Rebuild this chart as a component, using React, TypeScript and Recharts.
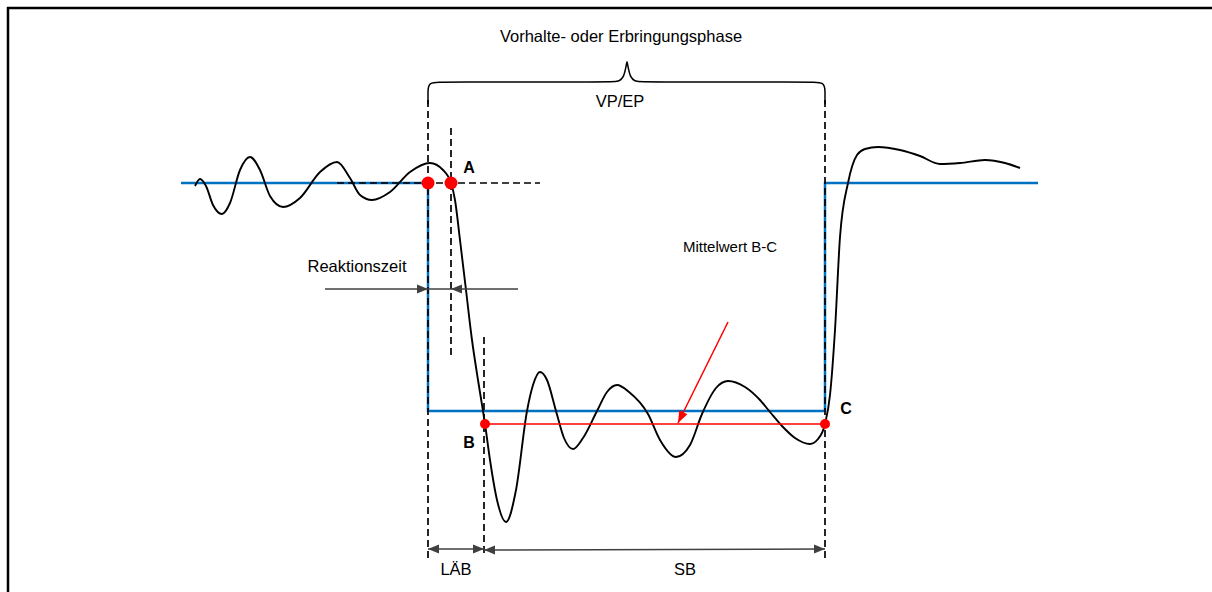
import React from 'react';
import { ComposedChart, Line, XAxis, YAxis, ReferenceLine, ReferenceDot } from 'recharts';

const W = 1212;
const H = 592;
const FONT = '"Liberation Sans", Arial, sans-serif';

// Istwert (measured response), t = time position, v = depth from top (axis reversed)
const istT = [195, 200, 206, 213, 222, 230, 240, 250, 260, 270, 283, 300, 320, 337, 350, 360, 372, 390, 410, 430, 443, 451, 455, 460, 466, 472, 478, 483, 485, 490, 497, 506, 516, 527, 533, 540, 547, 556, 564, 573, 583, 597, 607, 617, 629, 648, 660, 676, 690, 702, 716, 728, 745, 760, 770, 782, 795, 810, 818, 825, 830, 835, 840, 848, 857, 865, 878, 900, 920, 940, 960, 985, 1005, 1020];
const istV = [186, 179, 186, 205, 214, 203, 170, 157, 170, 196, 207, 198, 172, 162, 178, 195, 200, 192, 172, 163, 170, 183, 200, 240, 290, 340, 380, 411, 424, 460, 500, 522, 490, 411, 385, 372, 380, 411, 438, 449, 438, 411, 392, 385, 392, 414, 440, 457, 445, 414, 388, 381, 387, 400, 412, 426, 438, 444, 439, 424, 395, 330, 237, 183, 155, 149, 147, 150, 156, 164, 163, 160, 163, 168];
const istwert = istT.map((t, i) => ({ x: t, y: istV[i] }));

// Sollwert (setpoint step)
const sollT = [181, 428, 428, 825, 825, 1038];
const sollV = [183, 183, 411, 411, 183, 183];
const sollwert = sollT.map((t, i) => ({ x: t, y: sollV[i] }));

// Brace over the VP/EP phase
const braceT = [428, 428, 428, 444, 605, 618, 624, 627, 627, 630, 636, 649, 809, 825, 825, 825];
const braceV = [104, 92, 82, 82, 82, 82, 78, 61, 61, 78, 82, 82, 82, 82, 92, 104];
const brace = braceT.map((t, i) => ({ x: t, y: braceV[i] }));

// Marker points A (two), B, C
const markerPoints = [
  { x: 428, y: 183, r: 6.5 },
  { x: 451, y: 183, r: 6.5 },
  { x: 485, y: 424, r: 5 },
  { x: 825, y: 424, r: 5 },
];

// Mean value B-C
const meanLine = [{ x: 485, y: 424 }, { x: 825, y: 424 }];

// Dashed guides
const dashedGuides = [
  [{ x: 428, y: 100 }, { x: 428, y: 560 }],
  [{ x: 825, y: 100 }, { x: 825, y: 560 }],
  [{ x: 451, y: 128 }, { x: 451, y: 355 }],
  [{ x: 484, y: 337 }, { x: 484, y: 557 }],
  [{ x: 337, y: 183 }, { x: 540, y: 183 }],
];

// Dimension arrows
const dimArrows = [
  { a: { x: 325, y: 289 }, b: { x: 518, y: 289 } },
  { a: { x: 428, y: 549 }, b: { x: 484, y: 549 } },
  { a: { x: 484, y: 550 }, b: { x: 825, y: 549 } },
];
const dimHeads = [
  { x: 428, y: 289, angle: 0 },
  { x: 451, y: 289, angle: 180 },
  { x: 428, y: 549, angle: 180 },
  { x: 484, y: 549, angle: 0 },
  { x: 484, y: 550, angle: 180 },
  { x: 825, y: 549, angle: 0 },
];

const redArrow = [{ x: 728, y: 322 }, { x: 678, y: 423 }];

const labels = [
  { x: 621, y: 36, text: 'Vorhalte- oder Erbringungsphase', size: 16.5, bold: false },
  { x: 620, y: 101, text: 'VP/EP', size: 16.5, bold: false },
  { x: 357, y: 266, text: 'Reaktionszeit', size: 16.5, bold: false },
  { x: 730, y: 246, text: 'Mittelwert B-C', size: 15, bold: false },
  { x: 456, y: 569, text: 'LÄB', size: 16.5, bold: false },
  { x: 685, y: 569, text: 'SB', size: 16.5, bold: false },
  { x: 469, y: 167, text: 'A', size: 16, bold: true },
  { x: 469, y: 442, text: 'B', size: 16, bold: true },
  { x: 846, y: 408, text: 'C', size: 16, bold: true },
];

const arrowHead = (angleDeg: number, color: string, len: number, half: number) => (props: any) => {
  const { cx, cy } = props;
  const a = (angleDeg * Math.PI) / 180;
  const bx = cx - len * Math.cos(a);
  const by = cy - len * Math.sin(a);
  const px = -Math.sin(a) * half;
  const py = Math.cos(a) * half;
  return <polygon points={`${cx},${cy} ${bx + px},${by + py} ${bx - px},${by - py}`} fill={color} />;
};

const textShape = (text: string, size: number, bold: boolean) => (props: any) => (
  <text
    x={props.cx}
    y={props.cy}
    textAnchor="middle"
    dominantBaseline="central"
    fontFamily={FONT}
    fontSize={size}
    fontWeight={bold ? 'bold' : 'normal'}
    fill="#000"
  >
    {text}
  </text>
);

const redAngle = (Math.atan2(redArrow[1].y - redArrow[0].y, redArrow[1].x - redArrow[0].x) * 180) / Math.PI;

export default function App() {
  return (
    <div style={{ position: 'absolute', left: 0, top: 0, width: W, height: H, background: '#fff' }}>
      <ComposedChart width={W} height={H} margin={{ top: 0, right: 0, bottom: 0, left: 0 }}>
        <XAxis type="number" dataKey="x" domain={[0, W]} hide allowDataOverflow />
        <YAxis type="number" dataKey="y" domain={[0, H]} reversed hide allowDataOverflow />

        {/* frame */}
        <ReferenceLine segment={[{ x: 7, y: 8 }, { x: W, y: 8 }]} stroke="#000" strokeWidth={2.5} ifOverflow="visible" />
        <ReferenceLine segment={[{ x: 8, y: 7 }, { x: 8, y: H }]} stroke="#000" strokeWidth={2.5} ifOverflow="visible" />

        <Line data={sollwert} dataKey="y" type="linear" stroke="#0070C0" strokeWidth={2.5} dot={false} activeDot={false} isAnimationActive={false} />
        <Line data={brace} dataKey="y" type="basis" stroke="#000" strokeWidth={1.5} dot={false} activeDot={false} isAnimationActive={false} />
        <Line data={istwert} dataKey="y" type="monotone" stroke="#000" strokeWidth={1.9} dot={false} activeDot={false} isAnimationActive={false} />

        {dashedGuides.map((seg, i) => (
          <ReferenceLine key={`d${i}`} segment={seg} stroke="#000" strokeWidth={1.7} strokeDasharray="7 4" ifOverflow="visible" />
        ))}

        {dimArrows.map((d, i) => (
          <ReferenceLine key={`a${i}`} segment={[d.a, d.b]} stroke="#404040" strokeWidth={1.5} ifOverflow="visible" />
        ))}
        {dimHeads.map((h, i) => (
          <ReferenceDot key={`h${i}`} x={h.x} y={h.y} r={1} ifOverflow="visible" shape={arrowHead(h.angle, '#404040', 11, 4.5)} />
        ))}

        <ReferenceLine segment={meanLine} stroke="#FF0000" strokeWidth={1.5} ifOverflow="visible" />
        <ReferenceLine segment={redArrow} stroke="#FF0000" strokeWidth={1.5} ifOverflow="visible" />
        <ReferenceDot x={redArrow[1].x} y={redArrow[1].y} r={1} ifOverflow="visible" shape={arrowHead(redAngle, '#FF0000', 12, 4.5)} />

        {markerPoints.map((p, i) => (
          <ReferenceDot key={`p${i}`} x={p.x} y={p.y} r={p.r} fill="#FF0000" stroke="none" ifOverflow="visible" />
        ))}

        {labels.map((l, i) => (
          <ReferenceDot key={`l${i}`} x={l.x} y={l.y} r={1} ifOverflow="visible" shape={textShape(l.text, l.size, l.bold)} />
        ))}
      </ComposedChart>
    </div>
  );
}
